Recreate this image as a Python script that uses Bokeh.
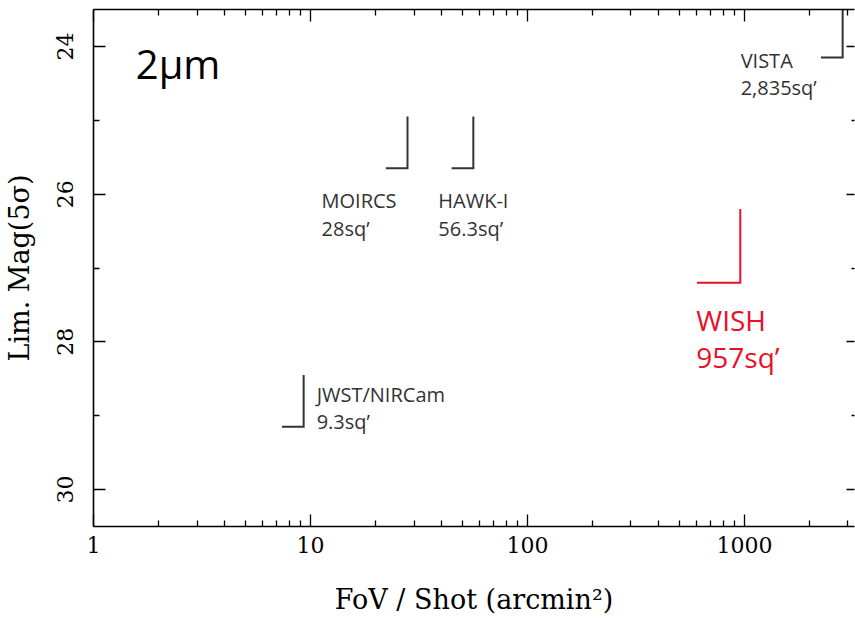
import math
from bokeh.plotting import figure
from bokeh.models import (Range1d, FixedTicker, BasicTickFormatter, LogAxis,
                          LinearAxis)
from bokeh.core.properties import value
from bokeh.embed import file_html
from bokeh.resources import INLINE

# ---------------- data ----------------
instruments = ["MOIRCS", "HAWK-I", "VISTA", "WISH", "JWST/NIRCam"]
fov_arcmin2 = [28.0, 56.3, 2835.0, 957.0, 9.3]
fov_labels = ["28sq\u2019", "56.3sq\u2019", "2,835sq\u2019", "957sq\u2019", "9.3sq\u2019"]
lim_mag = [25.65, 25.65, 24.15, 27.2, 29.15]

x_ticks = [1, 10, 100, 1000]
y_ticks = [24, 26, 28, 30]
y_minor = [25, 27, 29]
band_label = "2\u03bcm"

# ---------------- style / layout ----------------
colors = ["#333333", "#333333", "#333333", "#e8102a", "#333333"]
l_dex = [0.1, 0.1, 0.1, 0.2, 0.1]     # horizontal arm of the L marker (dex)
l_mag = [0.7, 0.7, 0.7, 1.0, 0.7]     # vertical arm of the L marker (mag)
font_px = [20, 20, 20, 28, 20]
# pixel offsets of the two text lines from the marker corner
txt_dx = [-86, -35, -102, -44, 13]
txt_dy1 = [32, 32, 3, 37, -32]
txt_dy2 = [60, 60, 30, 74, -5]

SERIF = "DejaVu Serif"
SANS = "Open Sans"

p = figure(width=855, height=623, x_axis_type="log",
           x_range=Range1d(1, 3215), y_range=Range1d(30.5, 23.5),
           output_backend="svg", toolbar_location=None,
           min_border_left=93, min_border_right=1, min_border_top=9,
           min_border_bottom=97)
p.xgrid.visible = False
p.ygrid.visible = False
p.outline_line_color = None
p.background_fill_color = "white"
p.border_fill_color = "white"

minor_x = [m * 10 ** d for d in range(0, 4) for m in range(2, 10)]

xa = p.xaxis[0]
xa.ticker = FixedTicker(ticks=x_ticks, minor_ticks=minor_x)
xa.formatter = BasicTickFormatter()
xa.axis_label = "FoV / Shot (arcmin\u00b2)"
ya = p.yaxis[0]
ya.ticker = FixedTicker(ticks=y_ticks, minor_ticks=y_minor)
ya.axis_label = "Lim. Mag(5\u03c3)"
ya.major_label_orientation = "vertical"

for ax in (xa, ya):
    ax.axis_line_color = "black"
    ax.axis_line_width = 1.6
    ax.major_tick_in = 12
    ax.major_tick_out = 0
    ax.minor_tick_in = 6
    ax.minor_tick_out = 0
    ax.major_tick_line_color = "black"
    ax.minor_tick_line_color = "black"
    ax.major_tick_line_width = 1.3
    ax.minor_tick_line_width = 1.3
    ax.major_label_text_font = SERIF
    ax.major_label_text_font_size = "22px"
    ax.major_label_text_color = "black"
    ax.axis_label_text_font = SERIF
    ax.axis_label_text_font_size = "27px"
    ax.axis_label_text_font_style = "normal"
    ax.axis_label_text_color = "black"

xa.major_label_standoff = 10
xa.axis_label_standoff = 28
ya.major_label_standoff = 20
ya.axis_label_standoff = 20

# top and right axes: ticks only
top = LogAxis(ticker=FixedTicker(ticks=x_ticks, minor_ticks=minor_x),
              formatter=BasicTickFormatter())
right = LinearAxis(ticker=FixedTicker(ticks=y_ticks, minor_ticks=y_minor))
for ax in (top, right):
    ax.major_label_text_font_size = "1px"
    ax.major_label_text_alpha = 0
    ax.major_label_standoff = 0
    ax.axis_line_color = "black"
    ax.axis_line_width = 1.6
    ax.major_tick_in = 12
    ax.major_tick_out = 0
    ax.minor_tick_in = 6
    ax.minor_tick_out = 0
    ax.major_tick_line_width = 1.3
    ax.minor_tick_line_width = 1.3
right.axis_line_color = None
right.major_tick_in = 8
right.minor_tick_in = 3
p.add_layout(top, "above")
p.add_layout(right, "right")

# ---------------- L markers ----------------
xs, ys = [], []
for f, m, dd, dm in zip(fov_arcmin2, lim_mag, l_dex, l_mag):
    xs.append([f / 10 ** dd, f, f])
    ys.append([m, m, m - dm])
p.multi_line(xs=xs, ys=ys, line_color=colors, line_width=2,
             line_join="miter")

# ---------------- texts ----------------
for i in range(len(instruments)):
    p.text(x=[fov_arcmin2[i]], y=[lim_mag[i]], text=[instruments[i]],
           x_offset=txt_dx[i], y_offset=txt_dy1[i],
           text_font=value(SANS), text_font_size=f"{font_px[i]}px",
           text_color=colors[i], text_align="left",
           text_baseline="alphabetic")
    p.text(x=[fov_arcmin2[i]], y=[lim_mag[i]], text=[fov_labels[i]],
           x_offset=txt_dx[i], y_offset=txt_dy2[i],
           text_font=value(SANS), text_font_size=f"{font_px[i]}px",
           text_color=colors[i], text_align="left",
           text_baseline="alphabetic")

p.text(x=[1.566], y=[24.23], text=[band_label],
       text_font=value(SANS), text_font_size="40px",
       text_color="black", text_align="left", text_baseline="alphabetic")

open("out.html", "w").write(file_html(p, INLINE))
